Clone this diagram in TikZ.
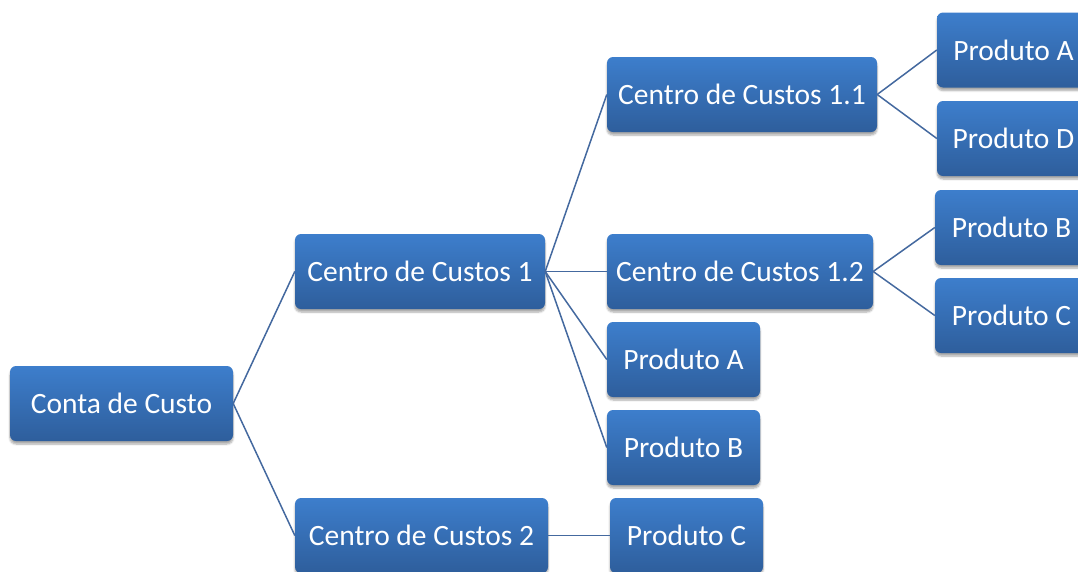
\documentclass[tikz,border=0pt]{standalone}
\usepackage{fontspec}
\setmainfont{Carlito}
\usetikzlibrary{shadows.blur}
\definecolor{boxtop}{HTML}{3D7ECC}
\definecolor{boxbot}{HTML}{2E5E9C}
\definecolor{linkcol}{HTML}{44699F}
\tikzset{
  box/.style={rectangle, rounded corners=6pt, top color=boxtop, bottom color=boxbot,
    draw=none, text=white, font=\fontsize{29.5}{34}\selectfont,
    minimum height=75pt, inner sep=0pt,
    blur shadow={shadow xshift=0pt, shadow yshift=-3pt, shadow blur steps=6, shadow opacity=35}},
  link/.style={draw=linkcol, line width=1.5pt}
}
\begin{document}
\begin{tikzpicture}[x=1pt,y=-1pt]
\useasboundingbox (0,0) rectangle (1078,571);
% root
\node[box, minimum width=223pt] (root) at (121.5,403.5) {Conta de Custo};
% second level
\node[box, minimum width=250pt] (cc1) at (420,271.5) {Centro de Custos 1};
\node[box, minimum width=253pt] (cc2) at (421.5,535.5) {Centro de Custos 2};
% third level
\node[box, minimum width=270pt] (cc11) at (742,94.5) {Centro de Custos 1.1};
\node[box, minimum width=266pt] (cc12) at (740,271.5) {Centro de Custos 1.2};
\node[box, minimum width=153pt] (pa1) at (683.5,359.5) {Produto A};
\node[box, minimum width=153pt] (pb1) at (683.5,447.5) {Produto B};
\node[box, minimum width=153pt] (pc2) at (686.5,535.5) {Produto C};
% fourth level
\node[box, minimum width=153pt] (pa11) at (1013.5,50) {Produto A};
\node[box, minimum width=153pt] (pd11) at (1013.5,138.5) {Produto D};
\node[box, minimum width=153pt] (pb12) at (1011.5,227.5) {Produto B};
\node[box, minimum width=153pt] (pc12) at (1011.5,315.5) {Produto C};
% connectors
\draw[link] (root.east) -- (cc1.west);
\draw[link] (root.east) -- (cc2.west);
\draw[link] (cc1.east) -- (cc11.west);
\draw[link] (cc1.east) -- (cc12.west);
\draw[link] (cc1.east) -- (pa1.west);
\draw[link] (cc1.east) -- (pb1.west);
\draw[link] (cc2.east) -- (pc2.west);
\draw[link] (cc11.east) -- (pa11.west);
\draw[link] (cc11.east) -- (pd11.west);
\draw[link] (cc12.east) -- (pb12.west);
\draw[link] (cc12.east) -- (pc12.west);
\end{tikzpicture}
\end{document}
